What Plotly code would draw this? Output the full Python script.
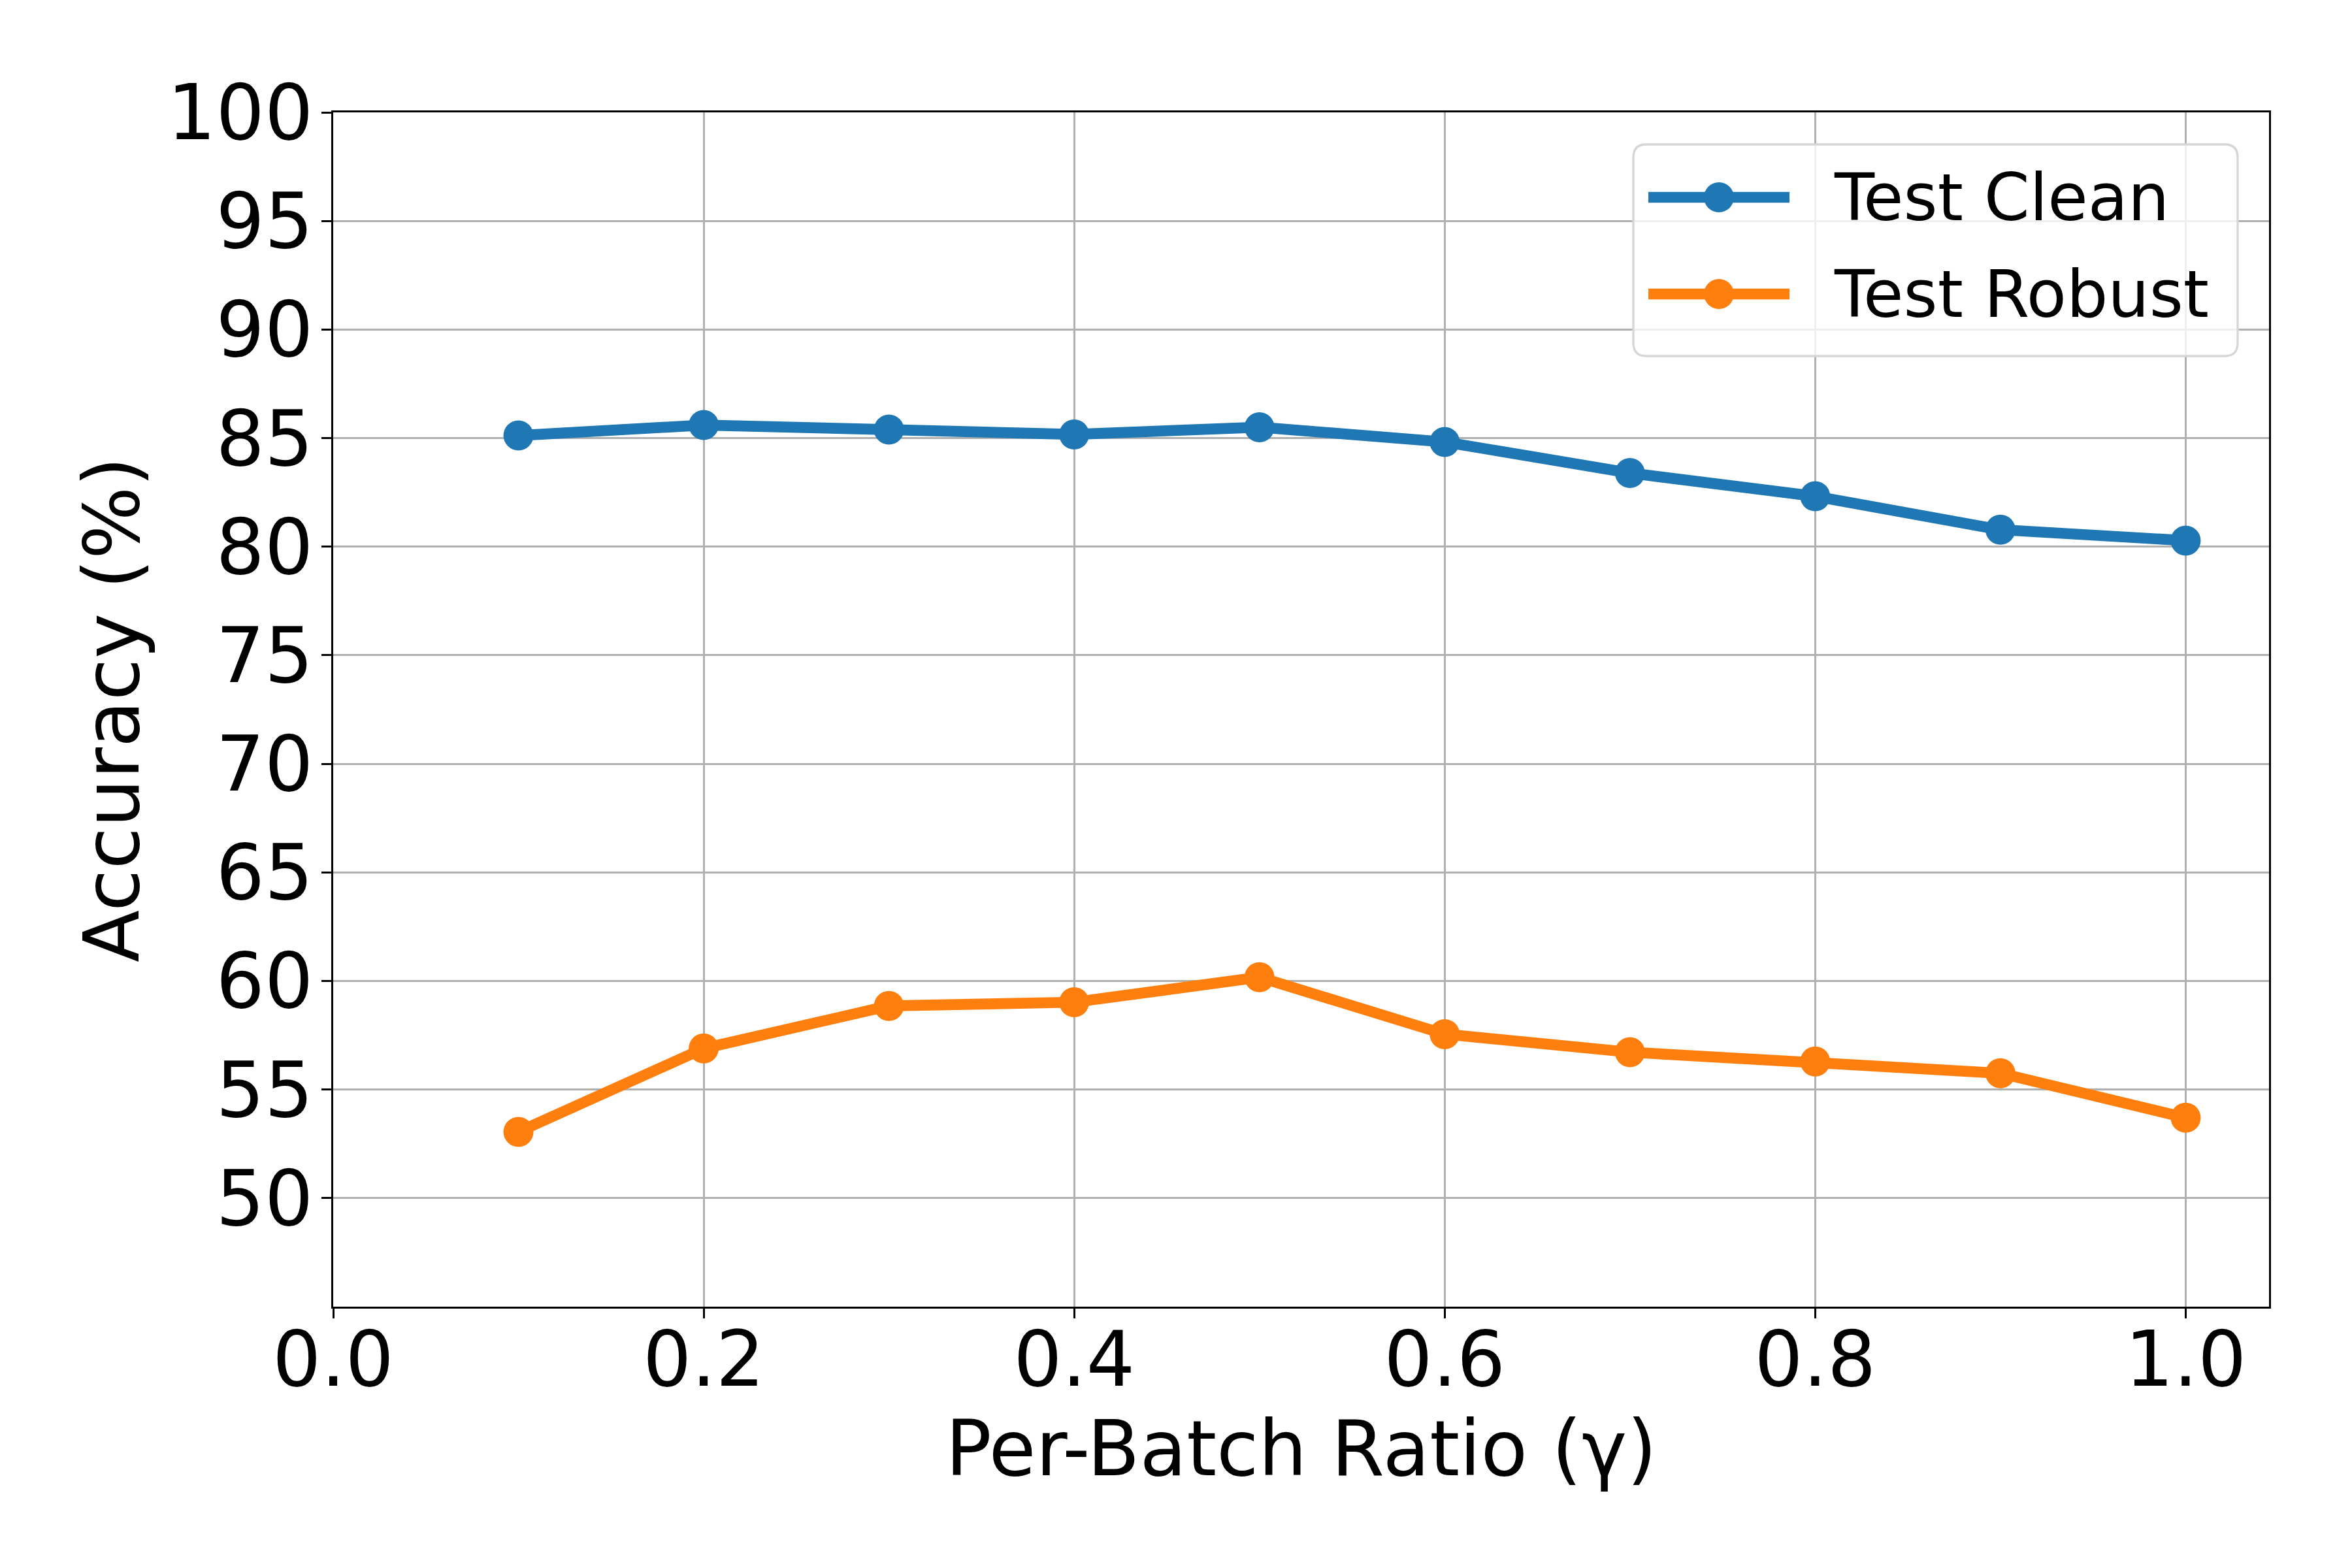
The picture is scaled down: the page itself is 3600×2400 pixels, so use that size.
import plotly.graph_objects as go

ratios = [0.1, 0.2, 0.3, 0.4, 0.5, 0.6, 0.7, 0.8, 0.9, 1.0]
test_clean = [85.12, 85.6, 85.39, 85.17, 85.5, 84.82, 83.39, 82.32, 80.78, 80.28]
test_robust = [53.05, 56.89, 58.85, 59.02, 60.17, 57.55, 56.72, 56.29, 55.75, 53.7]
series_names = ["Test Clean", "Test Robust"]
series_colors = ["#1f77b4", "#ff7f0e"]

x_ticks = [0.0, 0.2, 0.4, 0.6, 0.8, 1.0]
x_ticklabels = ["0.0", "0.2", "0.4", "0.6", "0.8", "1.0"]
y_ticks = [50, 55, 60, 65, 70, 75, 80, 85, 90, 95, 100]
y_ticklabels = [str(v) for v in y_ticks]

FONT = "DejaVu Sans"
LW = 16.7
MS = 46

# plot-area geometry in page pixels (the page body adds an 8px offset)
BODY = 8
PX0, PX1, PY0, PY1 = 510, 3473, 172, 2000
W, H = 3600, 2400

fig = go.Figure()
for name, vals, col in zip(series_names, [test_clean, test_robust], series_colors):
    fig.add_trace(go.Scatter(x=ratios, y=vals, mode="lines+markers", name=name,
                             line=dict(color=col, width=LW),
                             marker=dict(color=col, size=MS, symbol="circle"),
                             showlegend=False))

axis_common = dict(
    showline=True, linecolor="black", linewidth=3.3, mirror=True,
    showgrid=True, gridcolor="#b0b0b0", gridwidth=3.3,
    ticks="outside", ticklen=15, tickwidth=3.3, tickcolor="black",
    tickfont=dict(family=FONT, size=117, color="black"),
    zeroline=False,
)


def fx(X):
    return (X - PX0) / (PX1 - PX0)


def fy(Y):
    return (PY1 - Y) / (PY1 - PY0)


# legend drawn as a matplotlib-style framed box
shapes = []
annotations = []
bx0, bx1, by0, by1 = fx(2500), fx(3425), fy(545), fy(221)
r = 20
rx, ry = r / (PX1 - PX0), r / (PY1 - PY0)
path = (f"M {bx0+rx},{by1} L {bx1-rx},{by1} Q {bx1},{by1} {bx1},{by1-ry} "
        f"L {bx1},{by0+ry} Q {bx1},{by0} {bx1-rx},{by0} L {bx0+rx},{by0} "
        f"Q {bx0},{by0} {bx0},{by0+ry} L {bx0},{by1-ry} Q {bx0},{by1} {bx0+rx},{by1} Z")
shapes.append(dict(type="path", path=path, xref="paper", yref="paper",
                   fillcolor="rgba(255,255,255,0.8)", line=dict(color="#d6d6d6", width=3.3),
                   layer="above"))
row_y = [302, 450]
for name, col, ry_px in zip(series_names, series_colors, row_y):
    shapes.append(dict(type="line", xref="paper", yref="paper",
                       x0=fx(2523), x1=fx(2739), y0=fy(ry_px), y1=fy(ry_px),
                       line=dict(color=col, width=LW), layer="above"))
    shapes.append(dict(type="circle", xref="paper", yref="paper",
                       x0=fx(2631 - MS / 2), x1=fx(2631 + MS / 2),
                       y0=fy(ry_px + MS / 2), y1=fy(ry_px - MS / 2),
                       fillcolor=col, line=dict(width=0), layer="above"))
    annotations.append(dict(text=name, xref="paper", yref="paper", x=fx(2805), y=fy(ry_px),
                            xanchor="left", yanchor="middle", showarrow=False,
                            font=dict(family=FONT, size=100, color="black")))

fig.update_layout(
    width=W, height=H,
    margin=dict(l=PX0 - BODY, r=W - PX1 + BODY, t=PY0 - BODY, b=H - PY1 + BODY),
    paper_bgcolor="white", plot_bgcolor="white",
    font=dict(family=FONT, size=117, color="black"),
    xaxis=dict(range=[0, 1.045], tickvals=x_ticks, ticktext=x_ticklabels,
               title=dict(text="Per-Batch Ratio (γ)", font=dict(family=FONT, size=117), standoff=13),
               ticklabelstandoff=-38,
               **axis_common),
    yaxis=dict(range=[45, 100], tickvals=y_ticks, ticktext=y_ticklabels,
               title=dict(text="Accuracy (%)", font=dict(family=FONT, size=117), standoff=5),
               ticklabelstandoff=-11,
               **axis_common),
    shapes=shapes,
    annotations=annotations,
    showlegend=False,
)

fig.write_html("out.html")
